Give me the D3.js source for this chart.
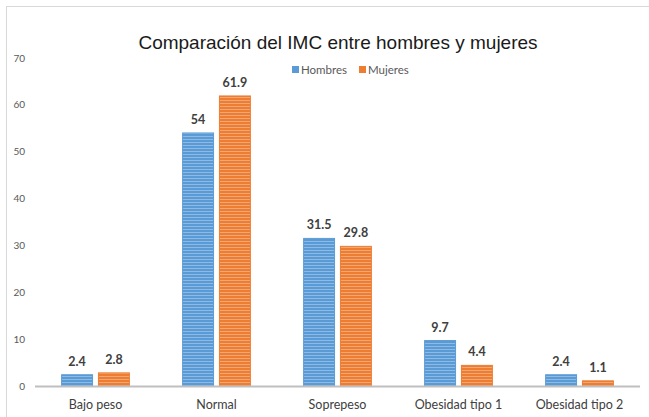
<!DOCTYPE html>
<html>
<head>
<meta charset="utf-8">
<script src="https://cdn.jsdelivr.net/npm/d3@7"></script>
<style>
  body { margin: 0; background: #fff; }
  svg { display: block; }
</style>
</head>
<body>
<svg width="649" height="417"></svg>
<script>
// datos del gráfico
const categories = ["Bajo peso", "Normal", "Soprepeso", "Obesidad tipo 1", "Obesidad tipo 2"];
const series = ["Hombres", "Mujeres"];
const hombres = [2.4, 54, 31.5, 9.7, 2.4];
const mujeres = [2.8, 61.9, 29.8, 4.4, 1.1];
const yTicks = [0, 10, 20, 30, 40, 50, 60, 70];

const colors = { Hombres: "#5b9bd5", Mujeres: "#ed7d31" };
const stripe = { Hombres: "#8dbbe6", Mujeres: "#f5a676" };

const svg = d3.select("svg");

// marco
svg.append("rect")
    .attr("x", 6.5).attr("y", 6.5)
    .attr("width", 660).attr("height", 430)
    .attr("fill", "#fff")
    .attr("stroke", "#d9d9d9");

// patrones de rayas horizontales
const defs = svg.append("defs");
series.forEach((s) => {
    const p = defs.append("pattern")
        .attr("id", "pat-" + s)
        .attr("patternUnits", "userSpaceOnUse")
        .attr("width", 8).attr("height", 3);
    p.append("rect").attr("width", 8).attr("height", 3).attr("fill", colors[s]);
    p.append("rect").attr("y", 1).attr("width", 8).attr("height", 1).attr("fill", stripe[s]);
});

// escalas
const x0 = d3.scaleBand()
    .domain(categories)
    .range([35, 640])
    .paddingInner(0.44)
    .paddingOuter(0.22);

const x1 = d3.scaleBand()
    .domain(series)
    .range([0, x0.bandwidth()])
    .paddingInner(0.16);

const y = d3.scaleLinear().domain([0, 70]).range([386, 58]);

const rows = categories.map((c, i) => ({ cat: c, Hombres: hombres[i], Mujeres: mujeres[i] }));

// título
svg.append("text")
    .attr("x", 338).attr("y", 49)
    .attr("text-anchor", "middle")
    .style("font", "19px 'Liberation Sans', Arial, sans-serif")
    .attr("fill", "#1a1a1a")
    .text("Comparación del IMC entre hombres y mujeres");

// eje y (solo etiquetas)
svg.append("g")
    .selectAll("text")
    .data(yTicks)
    .join("text")
    .attr("x", 25)
    .attr("y", (d) => y(d))
    .attr("dy", "0.35em")
    .attr("text-anchor", "end")
    .style("font", "10px Lato, sans-serif")
    .attr("fill", "#595959")
    .text((d) => d);

// barras
const group = svg.append("g")
    .selectAll("g")
    .data(rows)
    .join("g")
    .attr("transform", (d) => `translate(${x0(d.cat)},0)`);

group.selectAll("rect")
    .data((d) => series.map((s) => ({ s, v: d[s] })))
    .join("rect")
    .attr("x", (d) => x1(d.s))
    .attr("y", (d) => y(d.v))
    .attr("width", x1.bandwidth())
    .attr("height", (d) => y(0) - y(d.v))
    .attr("fill", (d) => `url(#pat-${d.s})`)
    .attr("stroke", (d) => colors[d.s])
    .attr("stroke-width", 1);

// etiquetas de valores
group.selectAll("text")
    .data((d) => series.map((s) => ({ s, v: d[s] })))
    .join("text")
    .attr("x", (d) => x1(d.s) + x1.bandwidth() / 2)
    .attr("y", (d) => y(d.v) - 9)
    .attr("text-anchor", "middle")
    .style("font", "bold 12.5px Lato, sans-serif")
    .attr("fill", "#404040")
    .text((d) => d.v);

// línea base
svg.append("line")
    .attr("x1", 35).attr("x2", 640)
    .attr("y1", y(0) + 0.5).attr("y2", y(0) + 0.5)
    .attr("stroke", "#bfbfbf")
    .attr("stroke-width", 2);

// etiquetas de categorías
svg.append("g")
    .selectAll("text")
    .data(categories)
    .join("text")
    .attr("x", (d) => x0(d) + x0.bandwidth() / 2)
    .attr("y", 409)
    .attr("text-anchor", "middle")
    .style("font", "12.5px Lato, sans-serif")
    .attr("fill", "#404040")
    .text((d) => d);

// leyenda
const legend = svg.append("g")
    .selectAll("g")
    .data(series)
    .join("g")
    .attr("transform", (d, i) => `translate(${292 + i * 67},0)`);

legend.append("rect")
    .attr("x", 0).attr("y", 66)
    .attr("width", 7).attr("height", 7)
    .attr("fill", (d) => colors[d]);

legend.append("text")
    .attr("x", 9).attr("y", 73.5)
    .style("font", "11.5px Lato, sans-serif")
    .attr("fill", "#595959")
    .text((d) => d);
</script>
</body>
</html>
